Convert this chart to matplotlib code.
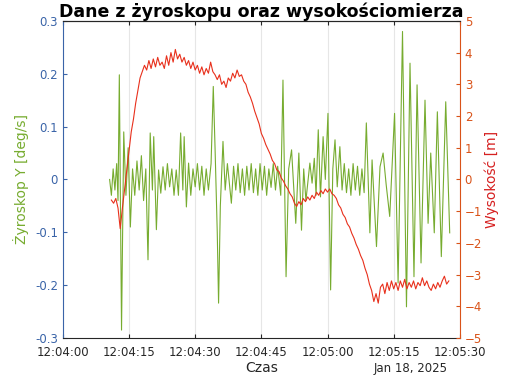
import matplotlib
matplotlib.use("Agg")
import matplotlib.pyplot as plt
import matplotlib.dates as mdates
import numpy as np

# seconds after 12:04:00, gyro Y [deg/s]
gyro_t = [10.6, 11.0, 11.4, 11.8, 12.2, 12.5, 12.8, 13.3, 13.8, 14.3, 14.8, 15.3, 15.8, 16.3, 16.8,
          17.3, 17.8, 18.3, 18.8, 19.3, 19.8, 20.3, 20.6, 21.2, 21.7, 22.2, 22.7, 23.2, 23.7, 24.2,
          24.7, 25.2, 25.7, 26.2, 26.7, 27.2, 27.5, 28.0, 28.5, 29.0, 29.5, 30.0, 30.5, 31.0, 31.5,
          32.0, 32.5, 33.0, 33.6, 34.1, 34.5, 35.0, 35.3, 35.7, 36.3, 36.8, 37.3, 38.2, 38.7, 39.2,
          39.7, 40.2, 40.7, 41.2, 41.7, 42.2, 42.7, 43.2, 43.7, 44.2, 44.7, 45.2, 45.7, 46.2, 46.7,
          47.2, 47.7, 48.2, 48.7, 49.4, 49.9, 50.6, 51.2, 51.85, 52.8, 53.5, 54.1, 54.6, 55.1, 56.0,
          56.5, 57.0, 57.4, 57.9, 58.4, 59.0, 59.5, 60.1, 60.7, 61.2, 61.7, 62.2, 62.8, 63.3, 63.8,
          64.3, 64.8, 65.3, 65.8, 66.3, 66.8, 67.3, 67.8, 68.3, 68.8, 69.6, 70.1, 71.1, 71.9, 72.6,
          73.3, 74.1, 75.2, 76.0, 77.0, 77.9, 78.7, 79.6, 80.3, 81.2, 82.1, 82.8, 83.4, 84.2, 84.9,
          85.8, 86.8, 87.7]
gyro_v = [0.0, -0.03, 0.02, -0.02, 0.03, -0.04, 0.198, -0.285, 0.09, -0.03, 0.06, -0.09, 0.02, -0.03, 0.035,
          -0.02, 0.045, -0.04, 0.02, -0.152, 0.088, -0.02, 0.081, -0.095, 0.018, -0.026, 0.024, -0.02, 0.03, -0.014,
          0.02, -0.03, 0.018, -0.03, 0.088, -0.02, 0.081, -0.052, 0.031, -0.03, 0.02, -0.014, 0.03, -0.02, 0.025,
          -0.03, 0.02, -0.02, 0.03, 0.176, 0.06, -0.1, -0.234, -0.05, 0.072, -0.02, 0.03, -0.045, 0.025, -0.02,
          0.03, -0.025, 0.02, -0.03, 0.025, -0.02, 0.03, -0.025, 0.02, -0.03, 0.03, -0.02, 0.025, -0.03, 0.02,
          -0.015, 0.03, -0.02, 0.025, -0.03, 0.188, -0.184, 0.02, 0.056, -0.083, 0.05, -0.096, 0.02, -0.04, 0.031,
          -0.007, 0.04, -0.03, 0.094, -0.033, 0.081, 0.0, 0.125, -0.209, 0.02, 0.075, -0.014, 0.062, -0.02, 0.03,
          -0.025, 0.02, -0.03, 0.03, -0.02, 0.025, -0.03, 0.02, -0.025, 0.107, -0.101, 0.037, -0.127, 0.024, 0.05,
          -0.01, -0.07, 0.125, -0.196, 0.28, -0.241, 0.22, -0.184, 0.179, -0.158, 0.15, -0.083, 0.05, -0.101, 0.128,
          -0.146, 0.147, -0.101]

# altitude [m], one value every 0.5 s starting at 11.0 s
alt_start = 11.0
alt_step = 0.5
alt_v = [-0.65, -0.75, -0.6, -0.9, -1.55, -0.9, -0.3, 0.3, 0.9, 1.5, 1.9, 2.4, 2.8, 3.2, 3.4, 3.6,
         3.45, 3.75, 3.5, 3.8, 3.55, 3.85, 3.6, 3.7, 3.5, 3.9, 3.6, 4.0, 3.7, 4.1, 3.8, 3.95,
         3.7, 3.85, 3.6, 3.75, 3.5, 3.7, 3.45, 3.6, 3.35, 3.55, 3.3, 3.5, 3.35, 3.7, 3.4, 3.3,
         3.15, 3.3, 3.0, 3.1, 2.9, 3.2, 3.1, 3.35, 3.2, 3.45, 3.25, 3.3, 3.1, 3.0, 2.75, 2.6,
         2.4, 2.15, 1.95, 1.75, 1.45, 1.3, 1.1, 0.95, 0.8, 0.6, 0.5, 0.3, 0.25, 0.05, -0.05, -0.2,
         -0.3, -0.45, -0.55, -0.75, -0.85, -0.7, -0.8, -0.6, -0.7, -0.55, -0.65, -0.5, -0.6, -0.4, -0.5, -0.35,
         -0.45, -0.3, -0.4, -0.3, -0.45, -0.5, -0.6, -0.8, -0.9, -1.1, -1.2, -1.4, -1.5, -1.7, -1.85, -2.05,
         -2.2, -2.4, -2.55, -2.8, -3.0, -3.3, -3.5, -3.85, -3.6, -3.9, -3.4, -3.3, -3.6, -3.25, -3.5, -3.2,
         -3.45, -3.25, -3.5, -3.2, -3.4, -3.15, -3.45, -3.25, -3.4, -3.2, -3.45, -3.25, -3.35, -3.1, -3.35, -3.2,
         -3.4, -3.5, -3.3, -3.45, -3.25, -3.4, -3.2, -3.05, -3.3, -3.2]

t0 = np.datetime64("2025-01-18T12:04:00")
gyro_time = t0 + (np.array(gyro_t) * 1000).astype("timedelta64[ms]")
alt_sec = alt_start + alt_step * np.arange(len(alt_v))
alt_time = t0 + (alt_sec * 1000).astype("timedelta64[ms]")

blue = "#3a64a8"
orange = "#d95319"
green = "#77ac30"
red = "#e8301c"

fig = plt.figure(figsize=(5.07, 3.8), dpi=100)
ax = fig.add_axes([0.124, 0.1105, 0.783, 0.8345])
ax2 = ax.twinx()

ax.plot(gyro_time, gyro_v, color=green, lw=0.8)
ax2.plot(alt_time, alt_v, color=red, lw=0.8)

ax.set_xlim(t0, t0 + np.timedelta64(90, "s"))
ax.set_ylim(-0.3, 0.3)
ax2.set_ylim(-5, 5)
ax.set_yticks([-0.3, -0.2, -0.1, 0, 0.1, 0.2, 0.3])
ax.set_yticklabels(["-0.3", "-0.2", "-0.1", "0", "0.1", "0.2", "0.3"])
ax2.set_yticks(range(-5, 6))

ax.xaxis.set_major_locator(mdates.SecondLocator(bysecond=[0, 15, 30, 45]))
ax.xaxis.set_major_formatter(mdates.DateFormatter("%H:%M:%S"))
ax.grid(axis="x", color="#e6e6e6", lw=0.8)

ax.tick_params(axis="x", direction="in", top=True, labelsize=8.5, length=3, pad=6, colors="#262626")
ax.tick_params(axis="y", direction="in", labelsize=8.5, length=3, colors=blue)
ax2.tick_params(axis="y", direction="in", labelsize=8.5, length=3, colors=orange)

ax.spines["left"].set_color(blue)
ax2.spines["left"].set_visible(False)
ax2.spines["right"].set_color(orange)
ax.spines["right"].set_visible(False)
ax.spines["top"].set_color("#262626")
ax2.spines["top"].set_color("#262626")
ax.spines["bottom"].set_color("#262626")
ax2.spines["bottom"].set_visible(False)

ax.set_ylabel("Żyroskop Y [deg/s]", color=green, fontsize=10, labelpad=4)
ax2.set_ylabel("Wysokość [m]", color="#d62020", fontsize=10, labelpad=2)
ax.set_xlabel("Czas", fontsize=10, color="#262626", labelpad=1)
ax.set_title("Dane z żyroskopu oraz wysokościomierza", fontsize=12.5, fontweight="bold", pad=3)
fig.text(0.81, 0.02, "Jan 18, 2025", fontsize=8.5, ha="center", color="#262626")

fig.savefig("out.png", dpi=100)
